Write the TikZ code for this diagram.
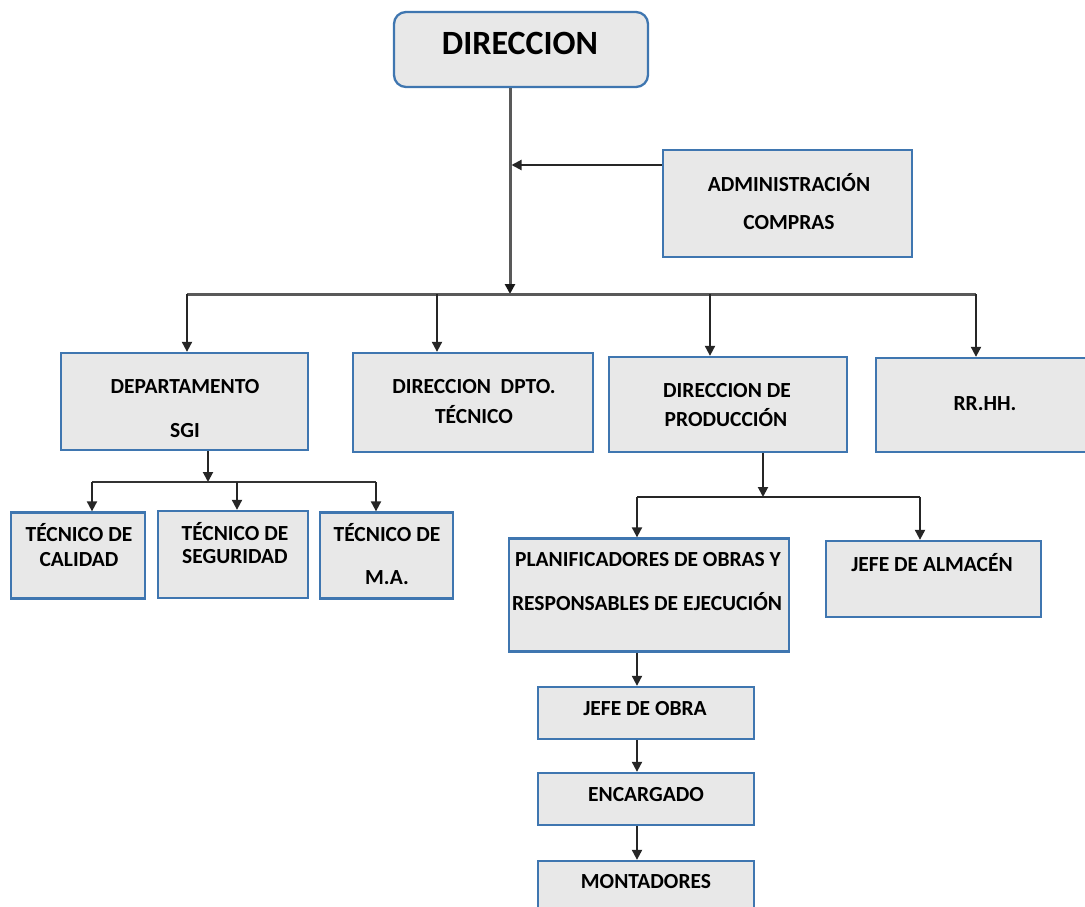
\documentclass[tikz,border=0pt]{standalone}
\usepackage{fontspec}
\setmainfont{Carlito}
\usetikzlibrary{arrows.meta}
\definecolor{boxfill}{HTML}{E8E8E8}
\definecolor{boxline}{HTML}{3F76B0}
\tikzset{
  box/.style={draw=boxline, fill=boxfill, line width=2.3pt, inner sep=0pt},
  lbl/.style={font=\fontsize{21.5}{24}\selectfont\bfseries, inner sep=0pt},
  arr/.style={draw=black!85, line width=2pt, -{Triangle[length=10pt,width=10pt]}},
  bar/.style={draw=black!65, line width=3pt},
}
\begin{document}
\begin{tikzpicture}[x=1pt, y=-1pt]
    \useasboundingbox (0,0) rectangle (1085,907);
    % top
    \node[box, rounded corners=12pt, minimum width=254pt, minimum height=75pt] (dir) at (521,49.5) {};
    \node[lbl, font=\fontsize{34}{36}\selectfont\bfseries] (dirT) at (520,43) {DIRECCION};
    \node[box, minimum width=249pt, minimum height=107pt] (admin) at (787.5,203.5) {};
    \node[lbl] (adminT1) at (789,183) {ADMINISTRACIÓN};
    \node[lbl] (adminT2) at (789,223) {COMPRAS};
    % second row
    \node[box, minimum width=247pt, minimum height=97pt] (dept) at (184.5,401.5) {};
    \node[lbl] (deptT1) at (185,387) {DEPARTAMENTO};
    \node[lbl] (deptT2) at (185,431) {SGI};
    \node[box, minimum width=240pt, minimum height=99pt] (dpto) at (473,402.5) {};
    \node[lbl] (dptoT1) at (474,387) {DIRECCION\ \ DPTO.};
    \node[lbl] (dptoT2) at (474,415) {TÉCNICO};
    \node[box, minimum width=238pt, minimum height=95pt] (prod) at (728,404.5) {};
    \node[lbl] (prodT1) at (727,391) {DIRECCION DE};
    \node[lbl] (prodT2) at (726,418) {PRODUCCIÓN};
    \node[box, minimum width=224pt, minimum height=94pt] (rrhh) at (988,405) {};
    \node[lbl] (rrhhT) at (985,404) {RR.HH.};
    % SGI branch
    \node[box, minimum width=134pt, minimum height=86pt] (tcal) at (78,555.5) {};
    \node[lbl] (tcalT1) at (79,533) {TÉCNICO DE};
    \node[lbl] (tcalT2) at (79,560) {CALIDAD};
    \node[box, minimum width=150pt, minimum height=87pt] (tseg) at (233,554.5) {};
    \node[lbl] (tsegT1) at (235,532) {TÉCNICO DE};
    \node[lbl] (tsegT2) at (235,557) {SEGURIDAD};
    \node[box, minimum width=133pt, minimum height=86pt] (tma) at (386.5,555.5) {};
    \node[lbl] (tmaT1) at (387,533) {TÉCNICO DE};
    \node[lbl] (tmaT2) at (387,578) {M.A.};
    % production branch
    \node[box, minimum width=280pt, minimum height=113pt] (planif) at (649,595) {};
    \node[lbl] (planifT1) at (648,560) {PLANIFICADORES DE OBRAS Y};
    \node[lbl] (planifT2) at (647,602) {RESPONSABLES DE EJECUCIÓN};
    \node[box, minimum width=215pt, minimum height=76pt] (almacen) at (933.5,579) {};
    \node[lbl] (almacenT) at (932,563) {JEFE DE ALMACÉN};
    \node[box, minimum width=216pt, minimum height=52pt] (jobra) at (646,713) {};
    \node[lbl] (jobraT) at (645,709) {JEFE DE OBRA};
    \node[box, minimum width=216pt, minimum height=52pt] (encarg) at (646,799) {};
    \node[lbl] (encargT) at (646,795) {ENCARGADO};
    \node[box, minimum width=216pt, minimum height=60pt] (mont) at (646,891) {};
    \node[lbl] (montT) at (646,882) {MONTADORES};
    % connectors
    \coordinate (hub) at (510,294);
    \coordinate (adminIn) at (510,165);
    \coordinate (b1) at (187,294);
    \coordinate (b2) at (437,294);
    \coordinate (b3) at (710,294);
    \coordinate (b4) at (976,294);
    \draw[arr, draw=black!65, line width=3pt, -{Triangle[length=10pt,width=10pt,color=black!90]}] (dir.south -| hub) -- (hub);
    \draw[arr, shorten >=1.5pt] (admin.west |- adminIn) -- (adminIn);
    \draw[bar] (b1) -- (b4);
    \draw[arr] (b1) -- (b1 |- dept.north);
    \draw[arr] (b2) -- (b2 |- dpto.north);
    \draw[arr] (b3) -- (b3 |- prod.north);
    \draw[arr] (b4) -- (b4 |- rrhh.north);
    \coordinate (s0) at (208,482);
    \coordinate (s1) at (92,482);
    \coordinate (s2) at (237,482);
    \coordinate (s3) at (376,482);
    \draw[arr] (dept.south -| s0) -- (s0);
    \draw[bar, line width=2pt, draw=black!80] (s1) -- (s3);
    \draw[arr] (s1) -- (s1 |- tcal.north);
    \draw[arr] (s2) -- (s2 |- tseg.north);
    \draw[arr] (s3) -- (s3 |- tma.north);
    \coordinate (p0) at (763,497);
    \coordinate (p1) at (637,497);
    \coordinate (p2) at (920,497);
    \draw[arr] (prod.south -| p0) -- (p0);
    \draw[bar, line width=2pt, draw=black!85] (p1) -- (p2);
    \draw[arr] (p1) -- (p1 |- planif.north);
    \draw[arr] (p2) -- (p2 |- almacen.north);
    \coordinate (c) at (637,0);
    \draw[arr] (planif.south -| c) -- (jobra.north -| c);
    \draw[arr] (jobra.south -| c) -- (encarg.north -| c);
    \draw[arr] (encarg.south -| c) -- (mont.north -| c);
  \end{tikzpicture}
\end{document}
